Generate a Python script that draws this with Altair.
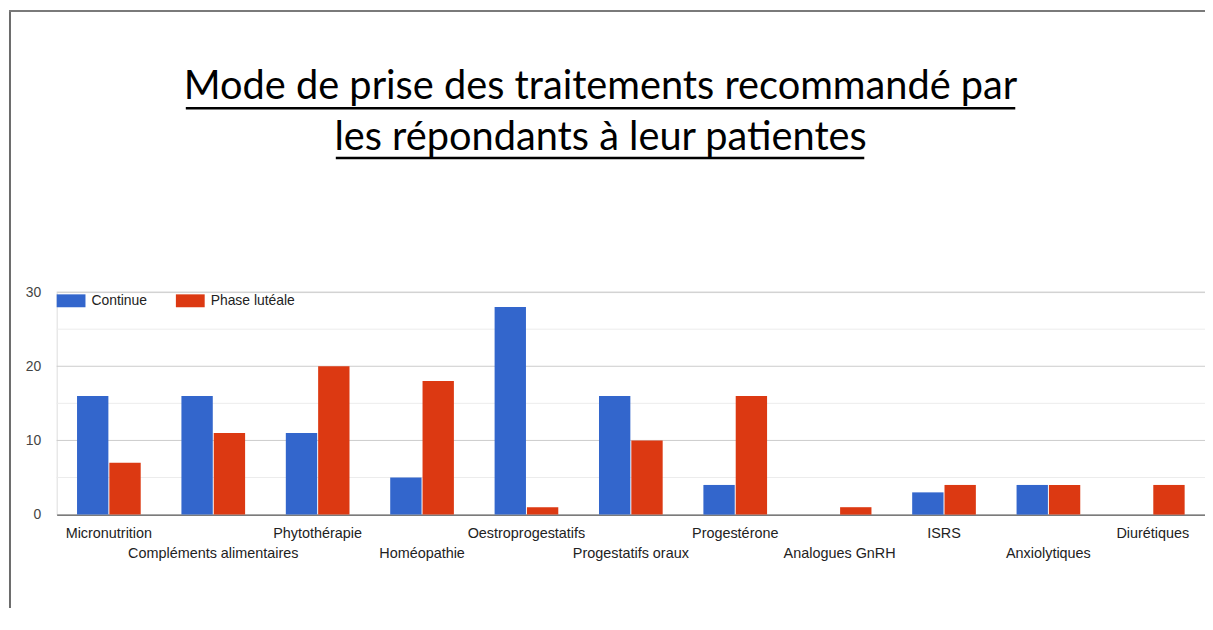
import altair as alt
import pandas as pd

categories = ["Micronutrition", "Compléments alimentaires", "Phytothérapie", "Homéopathie",
              "Oestroprogestatifs", "Progestatifs oraux", "Progestérone", "Analogues GnRH",
              "ISRS", "Anxiolytiques", "Diurétiques"]
continue_vals = [16, 16, 11, 5, 28, 16, 4, 0, 3, 4, 0]
luteale_vals = [7, 11, 20, 18, 1, 10, 16, 1, 4, 4, 4]
series = ["Continue", "Phase lutéale"]
colors = ["#3366CC", "#DC3912"]
major_ticks = [0, 10, 20, 30]
minor_ticks = [5, 15, 25]
title_lines = ["Mode de prise des traitements recommandé par", "les répondants à leur patientes"]

rows = []
for c, a, b in zip(categories, continue_vals, luteale_vals):
    rows.append({"cat": c, "serie": series[0], "val": a})
    rows.append({"cat": c, "serie": series[1], "val": b})
df = pd.DataFrame(rows)

W, H = 1156, 224
cat_list = "[" + ",".join("'" + c + "'" for c in categories) + "]"
label_expr = f"indexof({cat_list}, datum.value) % 2 == 1 ? ['', datum.label] : datum.label"

rect_path = "M-1,-0.448H1V0.448H-1Z"

bars = alt.Chart(df).mark_bar().encode(
    x=alt.X("cat:N", sort=categories, title=None,
            scale=alt.Scale(paddingInner=0.39, paddingOuter=0.195),
            axis=alt.Axis(labelExpr=label_expr, labelAngle=0, labelFont="Liberation Sans",
                          labelFontSize=14.5, labelColor="#222222", labelPadding=12,
                          labelLineHeight=20, ticks=False, domain=True,
                          domainColor="#333333", grid=False, labelBaseline="top")),
    xOffset=alt.XOffset("serie:N", sort=series, scale=alt.Scale(paddingInner=0.03)),
    y=alt.Y("val:Q", title=None,
            scale=alt.Scale(domain=[0, 30], nice=False),
            axis=alt.Axis(values=major_ticks, grid=False, domain=False, ticks=False,
                          labelFont="Liberation Sans", labelFontSize=14,
                          labelColor="#444444", labelPadding=16)),
    color=alt.Color("serie:N", sort=series,
                    scale=alt.Scale(domain=series, range=colors),
                    legend=alt.Legend(title=None, orient="none", legendX=0, legendY=-6,
                                      direction="horizontal", symbolType=rect_path,
                                      symbolSize=841, symbolStrokeWidth=0,
                                      labelFont="Liberation Sans", labelFontSize=14,
                                      labelColor="#222222", labelOffset=6,
                                      columnPadding=28, padding=0)),
)

grid_minor = alt.Chart(pd.DataFrame({"v": minor_ticks})).mark_rule(
    color="#ececec", strokeWidth=1).encode(y=alt.Y("v:Q"))
grid_major = alt.Chart(pd.DataFrame({"v": major_ticks[1:]})).mark_rule(
    color="#cccccc", strokeWidth=1).encode(y=alt.Y("v:Q"))

one = pd.DataFrame({"a": [0]})
# frame of the slide
frame_left = alt.Chart(one).mark_rule(color="#6b6b6b", strokeWidth=2).encode(
    x=alt.value(-47), y=alt.value(-283), y2=alt.value(H + 120))
frame_top = alt.Chart(one).mark_rule(color="#7a7a7a", strokeWidth=2).encode(
    x=alt.value(-48), x2=alt.value(W + 10), y=alt.value(-283))

# title lines (text marks) and their underlines
t1 = alt.Chart(one).mark_text(font="Lato", fontSize=40, color="#000000", align="center",
                              baseline="alphabetic").encode(
    x=alt.value(547.5), y=alt.value(-194), text=alt.value(title_lines[0]))
t2 = alt.Chart(one).mark_text(font="Lato", fontSize=40, color="#000000", align="center",
                              baseline="alphabetic").encode(
    x=alt.value(547.5), y=alt.value(-143), text=alt.value(title_lines[1]))
ul1 = alt.Chart(one).mark_rule(color="#000000", strokeWidth=2.5).encode(
    x=alt.value(130), x2=alt.value(965), y=alt.value(-185))
ul2 = alt.Chart(one).mark_rule(color="#000000", strokeWidth=2.5).encode(
    x=alt.value(281), x2=alt.value(813), y=alt.value(-135))

chart = alt.layer(grid_minor, grid_major, bars, frame_left, frame_top, t1, t2, ul1, ul2).properties(
    width=W, height=H,
    autosize=alt.AutoSizeParams(type="none"),
    padding={"left": 49, "top": 284, "right": 0, "bottom": 92},
).configure_view(stroke=None).configure(background="white")

chart.save("out.html", embed_options={"renderer": "svg", "actions": False})
